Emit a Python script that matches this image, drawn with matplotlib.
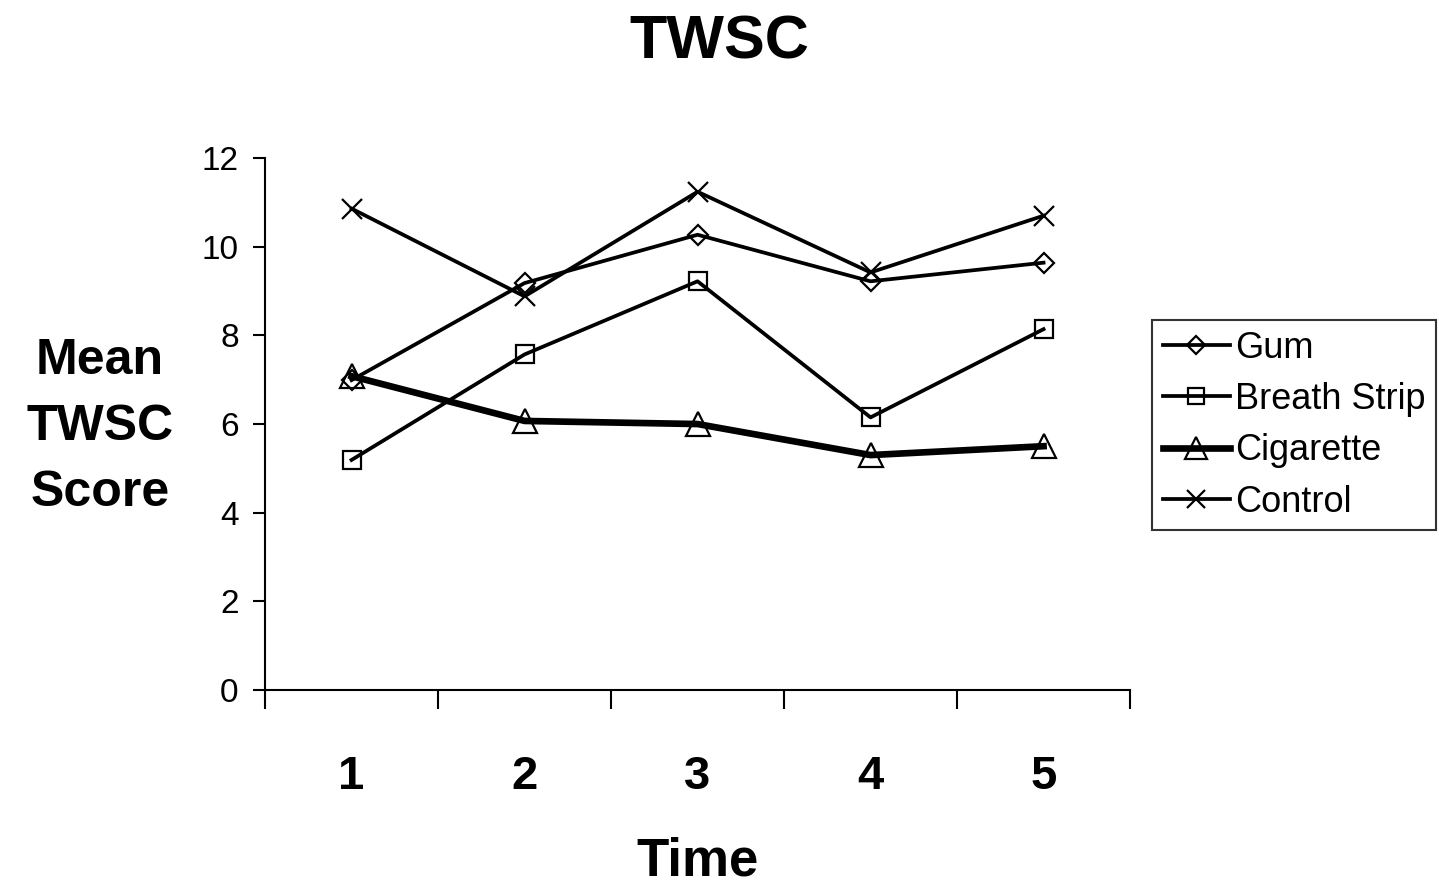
import matplotlib.pyplot as plt

plt.rcParams['font.family'] = ['Liberation Sans', 'DejaVu Sans']

times = ['1', '2', '3', '4', '5']
gum = [6.99, 9.18, 10.27, 9.22, 9.64]
breath_strip = [5.19, 7.57, 9.22, 6.15, 8.14]
cigarette = [7.08, 6.07, 6.00, 5.30, 5.50]
control = [10.86, 8.88, 11.24, 9.42, 10.70]

fig = plt.figure(figsize=(14.39, 8.93), dpi=100)
ax = fig.add_axes([0.1842, 0.2273, 0.6011, 0.5957])

x = list(range(1, len(times) + 1))
ax.plot(x, gum, c='black', lw=2.7, marker='D', ms=10, mfc='none', mec='black', mew=1.6, label='Gum')
ax.plot(x, breath_strip, c='black', lw=2.7, marker='s', ms=13.5, mfc='none', mec='black', mew=1.6, label='Breath Strip')
ax.plot(x, cigarette, c='black', lw=4.8, marker='^', ms=17, mfc='none', mec='black', mew=1.6, label='Cigarette')
ax.plot(x, control, c='black', lw=2.7, marker='x', ms=14, mec='black', mew=1.6, label='Control')

# osie w stylu Excela
ax.set_xlim(0.5, len(times) + 0.5)
ax.set_ylim(0, 12)
ax.set_yticks(range(0, 13, 2))
ax.set_xticks([i + 0.5 for i in range(len(times) + 1)])
ax.set_xticklabels([])
ax.set_xticks(x, minor=True)
ax.set_xticklabels(times, minor=True, fontsize=34, fontweight='bold')
ax.tick_params(axis='x', which='major', direction='out', length=14, width=1.5)
ax.tick_params(axis='x', which='minor', length=0, pad=47)
ax.tick_params(axis='y', direction='out', length=9, width=1.5, labelsize=24, pad=10)
for side in ['top', 'right']:
    ax.spines[side].set_visible(False)
for side in ['left', 'bottom']:
    ax.spines[side].set_linewidth(1.5)

fig.text(0.5, 0.952, 'TWSC', ha='center', va='center', fontsize=44, fontweight='bold')
fig.text(0.4844, 0.035, 'Time', ha='center', va='center', fontsize=38, fontweight='bold')
fig.text(0.0695, 0.522, 'Mean\nTWSC\nScore', ha='center', va='center', fontsize=36,
         fontweight='bold', linespacing=1.55)

leg = fig.legend(loc='upper left', bbox_to_anchor=(0.8005, 0.6417), fontsize=26, frameon=True,
                 fancybox=False, edgecolor='black', markerscale=0.9, handlelength=1.85,
                 handletextpad=0.15, borderpad=0.3, labelspacing=0.45, borderaxespad=0)
leg.get_frame().set_linewidth(1.5)

fig.savefig('out.png', dpi=100)
